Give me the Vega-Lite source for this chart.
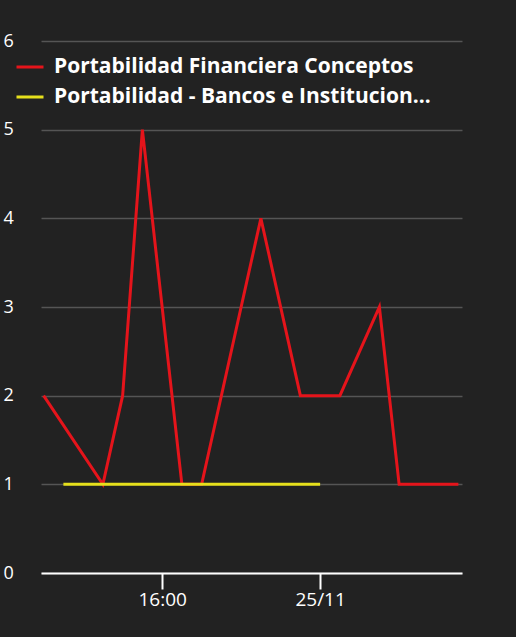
{
  "$schema": "https://vega.github.io/schema/vega-lite/v6.json",
  "autosize": {"type": "none"},
  "width": 421,
  "height": 532,
  "padding": {"left": 41, "top": 41, "right": 54, "bottom": 64},
  "background": "#222222",
  "config": {
    "view": {"stroke": null},
    "font": "Open Sans"
  },
  "data": {
    "values": [
      {"t": "2023-11-24T10:00:00", "serie": "Portabilidad Financiera Conceptos", "v": 2},
      {"t": "2023-11-24T13:00:00", "serie": "Portabilidad Financiera Conceptos", "v": 1},
      {"t": "2023-11-24T14:00:00", "serie": "Portabilidad Financiera Conceptos", "v": 2},
      {"t": "2023-11-24T15:00:00", "serie": "Portabilidad Financiera Conceptos", "v": 5},
      {"t": "2023-11-24T17:00:00", "serie": "Portabilidad Financiera Conceptos", "v": 1},
      {"t": "2023-11-24T18:00:00", "serie": "Portabilidad Financiera Conceptos", "v": 1},
      {"t": "2023-11-24T21:00:00", "serie": "Portabilidad Financiera Conceptos", "v": 4},
      {"t": "2023-11-24T23:00:00", "serie": "Portabilidad Financiera Conceptos", "v": 2},
      {"t": "2023-11-25T01:00:00", "serie": "Portabilidad Financiera Conceptos", "v": 2},
      {"t": "2023-11-25T03:00:00", "serie": "Portabilidad Financiera Conceptos", "v": 3},
      {"t": "2023-11-25T04:00:00", "serie": "Portabilidad Financiera Conceptos", "v": 1},
      {"t": "2023-11-25T07:00:00", "serie": "Portabilidad Financiera Conceptos", "v": 1},
      {"t": "2023-11-24T11:00:00", "serie": "Portabilidad - Bancos e Instituciones Financieras", "v": 1},
      {"t": "2023-11-25T00:00:00", "serie": "Portabilidad - Bancos e Instituciones Financieras", "v": 1}
    ]
  },
  "encoding": {
    "x": {
      "field": "t",
      "type": "temporal",
      "title": null,
      "scale": {"domain": [{"year": 2023, "month": 11, "date": 24, "hours": 9, "minutes": 52}, {"year": 2023, "month": 11, "date": 25, "hours": 7, "minutes": 11}]},
      "axis": {
        "values": [{"year": 2023, "month": 11, "date": 24, "hours": 16}, {"year": 2023, "month": 11, "date": 25, "hours": 0}],
        "labelExpr": "hours(datum.value) == 0 ? timeFormat(datum.value, '%d/%m') : timeFormat(datum.value, '%H:%M')",
        "grid": false,
        "domainColor": "#ffffff",
        "domainWidth": 2,
        "tickColor": "#ffffff",
        "tickWidth": 2,
        "tickSize": 16,
        "labelColor": "#ffffff",
        "labelFontSize": 19,
        "labelPadding": 1,
        "labelFont": "Open Sans"
      }
    },
    "y": {
      "field": "v",
      "type": "quantitative",
      "title": null,
      "scale": {"domain": [0, 6]},
      "axis": {
        "values": [0, 1, 2, 3, 4, 5, 6],
        "domain": false,
        "ticks": false,
        "gridColor": "#555555",
        "gridWidth": 1.5,
        "labelColor": "#ffffff",
        "labelFontSize": 18,
        "labelAlign": "left",
        "labelPadding": 38,
        "labelBaseline": "middle",
        "labelFont": "Open Sans"
      }
    },
    "color": {
      "field": "serie",
      "type": "nominal",
      "scale": {
        "domain": ["Portabilidad Financiera Conceptos", "Portabilidad - Bancos e Instituciones Financieras"],
        "range": ["#e5141b", "#e6e01c"]
      },
      "legend": {
        "orient": "none",
        "legendX": -26,
        "legendY": 11,
        "title": null,
        "symbolType": "stroke",
        "symbolSize": 729,
        "symbolStrokeWidth": 3,
        "labelColor": "#ffffff",
        "labelFontSize": 21,
        "labelFontWeight": "bold",
        "labelFont": "Open Sans",
        "labelLimit": 388,
        "rowPadding": 5,
        "labelOffset": 9
      }
    }
  },
  "layer": [
    {
      "transform": [{"filter": "datum.serie == 'Portabilidad Financiera Conceptos'"}],
      "mark": {"type": "line", "strokeWidth": 3}
    },
    {
      "transform": [{"filter": "datum.serie != 'Portabilidad Financiera Conceptos'"}],
      "mark": {"type": "line", "strokeWidth": 3}
    }
  ]
}
